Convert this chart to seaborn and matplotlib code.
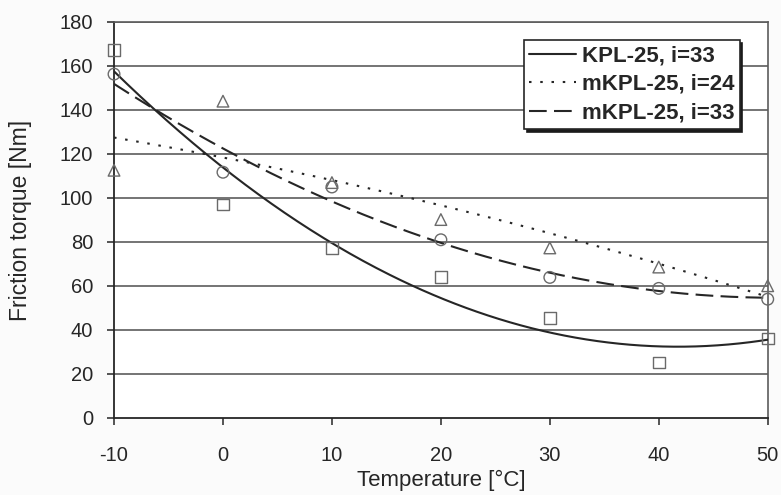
import numpy as np
import pandas as pd
import matplotlib
matplotlib.use("Agg")
import matplotlib.pyplot as plt
import seaborn as sns

# Measured friction torque [Nm] at each temperature [°C]
temperature = [-10, 0, 10, 20, 30, 40, 50]
kpl25_i33 = [167.3, 97.0, 77.4, 64.0, 45.4, 25.2, 36.1]
mkpl25_i24 = [112.6, 144.0, 107.0, 90.2, 77.3, 68.6, 60.1]
mkpl25_i33 = [156.3, 111.7, 105.0, 81.0, 63.9, 58.9, 54.0]

series_names = ["KPL-25, i=33", "mKPL-25, i=24", "mKPL-25, i=33"]
x_ticks = [-10, 0, 10, 20, 30, 40, 50]
y_ticks = [0, 20, 40, 60, 80, 100, 120, 140, 160, 180]

sns.set_theme(style="white")
plt.rcParams["font.family"] = ["Liberation Sans", "DejaVu Sans"]
plt.rcParams["axes.unicode_minus"] = False

ink = "#262626"
grid_col = "#5c5c5c"
marker_col = "#6a6a6a"

fig = plt.figure(figsize=(7.81, 4.95), dpi=100, facecolor="#fbfbfb")
ax = fig.add_axes([0.146, 0.1556, 0.837, 0.8])
ax.set_facecolor("white")

measured = pd.DataFrame({
    "temperature": temperature * 3,
    "torque": kpl25_i33 + mkpl25_i24 + mkpl25_i33,
    "series": sum([[n] * len(temperature) for n in series_names], []),
})

# Second-order polynomial trend line for each series
xs = np.linspace(min(temperature), max(temperature), 300)
trend_frames = []
for name, vals in zip(series_names, [kpl25_i33, mkpl25_i24, mkpl25_i33]):
    coeffs = np.polyfit(temperature, vals, 2)
    trend_frames.append(pd.DataFrame({"temperature": xs,
                                      "torque": np.polyval(coeffs, xs),
                                      "series": name}))
trend = pd.concat(trend_frames, ignore_index=True)

for y in y_ticks[1:]:
    ax.axhline(y, color=grid_col, lw=1.2, zorder=1)

sns.lineplot(data=trend, x="temperature", y="torque", hue="series", style="series",
             palette={n: ink for n in series_names},
             dashes={series_names[0]: "", series_names[1]: (1.2, 4.2),
                     series_names[2]: (8.5, 3.5)},
             linewidth=1.5, ax=ax, zorder=3, legend=True)

sns.scatterplot(data=measured, x="temperature", y="torque", style="series",
                markers={series_names[0]: "s", series_names[1]: "^",
                         series_names[2]: "o"},
                s=70, facecolor="none", edgecolor=marker_col, linewidth=1.0,
                color=marker_col, ax=ax, zorder=4, legend=False, clip_on=False)
for coll in ax.collections:
    coll.set_facecolor("none")
    coll.set_edgecolor(marker_col)

ax.set_xlim(-10, 50)
ax.set_ylim(0, 180)
ax.set_xticks(x_ticks)
ax.set_yticks(y_ticks)
ax.tick_params(axis="both", which="both", direction="out", length=5, width=1.1,
               color=ink, labelsize=14.5, labelcolor=ink, left=True, bottom=True)
ax.tick_params(axis="x", pad=15)
ax.tick_params(axis="y", pad=10)

for side in ["left", "bottom"]:
    ax.spines[side].set_color(ink)
    ax.spines[side].set_linewidth(1.3)
ax.spines["right"].set_color(grid_col)
ax.spines["right"].set_linewidth(1.2)
ax.spines["top"].set_color(grid_col)
ax.spines["top"].set_linewidth(1.2)

ax.set_xlabel("Temperature [°C]", fontsize=16, color=ink, labelpad=4)
ax.set_ylabel("Friction torque [Nm]", fontsize=16.5, color=ink, labelpad=20)

handles, labels = ax.get_legend_handles_labels()
leg = ax.legend(handles, labels, loc="upper right", bbox_to_anchor=(0.957, 0.955),
                borderaxespad=0, frameon=True, fancybox=False,
                prop={"weight": "bold", "size": 16}, labelcolor=ink,
                handlelength=2.1, handletextpad=0.25, labelspacing=0.34,
                borderpad=0.25, shadow={"color": "#1a1a1a", "alpha": 1.0})
leg.get_frame().set_edgecolor(ink)
leg.get_frame().set_linewidth(1.2)
leg.get_frame().set_facecolor("white")
leg.get_frame().set_alpha(1.0)

fig.savefig("out.png", dpi=100, facecolor=fig.get_facecolor())
